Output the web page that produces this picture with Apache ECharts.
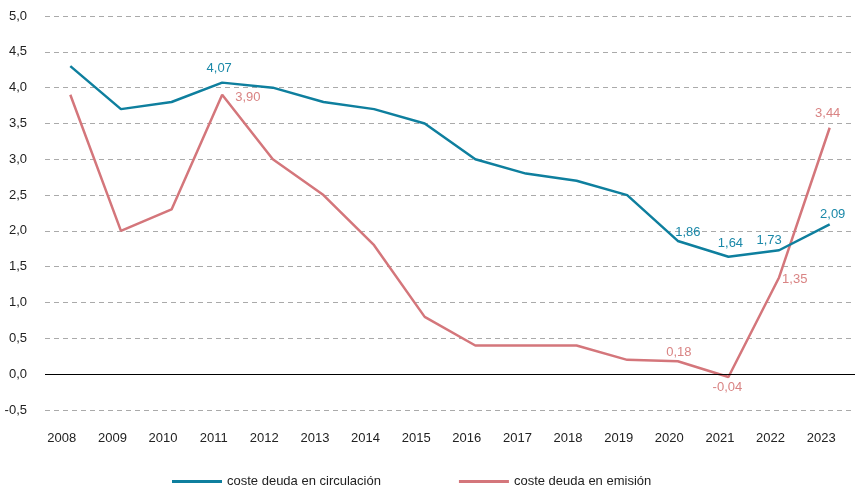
<!DOCTYPE html>
<html>
<head>
<meta charset="utf-8">
<script src="https://cdn.jsdelivr.net/npm/echarts@6/dist/echarts.min.js"></script>
<style>
  html, body { margin: 0; padding: 0; background: #ffffff; }
  #chart { width: 855px; height: 489px; }
</style>
</head>
<body>
<div id="chart"></div>
<script>
// datos
var years = ["2008", "2009", "2010", "2011", "2012", "2013", "2014", "2015",
  "2016", "2017", "2018", "2019", "2020", "2021", "2022", "2023"];
var circulacion = [4.3, 3.7, 3.8, 4.07, 4.0, 3.8, 3.7, 3.5, 3.0, 2.8, 2.7, 2.5, 1.86, 1.64, 1.73, 2.09];
var emision = [3.9, 2.0, 2.3, 3.9, 3.0, 2.5, 1.8, 0.8, 0.4, 0.4, 0.4, 0.2, 0.18, -0.04, 1.35, 3.44];

// puntos con etiqueta: [posicion, distancia, offset]
var labelsCirc = {
  3: ["top", 8, [-3, 0]],
  12: ["top", 2, [10, 0]],
  13: ["top", 7, [2, 0]],
  14: ["top", 3, [-10, 0]],
  15: ["top", 4, [3, 0]]
};
var labelsEmis = {
  3: ["right", 13, [0, 3]],
  12: ["top", 2, [1, 0]],
  13: ["bottom", 4, [-1, 0]],
  14: ["right", 3, [0, 2]],
  15: ["top", 8, [-2, 0]]
};

var blue = "#0e7f9e";
var red = "#d4767b";
var font = "Liberation Sans, Arial, sans-serif";

function fmt(v) {
  return v.toFixed(2).replace(".", ",");
}

function buildData(values, labels, color) {
  return values.map(function (v, i) {
    var item = { value: v };
    var l = labels[i];
    if (l) {
      item.label = {
        show: true,
        position: l[0],
        distance: l[1],
        offset: l[2],
        color: color,
        fontSize: 13,
        fontFamily: font,
        formatter: function (p) { return fmt(p.value); }
      };
    }
    return item;
  });
}

var chart = echarts.init(document.getElementById("chart"));
chart.setOption({
  animation: false,
  grid: { left: 45, right: 0, top: 16, bottom: 79 },
  legend: {
    top: 470,
    left: 167,
    itemWidth: 50,
    itemHeight: 3,
    itemGap: 78,
    icon: "rect",
    textStyle: { color: "#222", fontSize: 13, fontFamily: font },
    data: ["coste deuda en circulación", "coste deuda en emisión"]
  },
  xAxis: {
    type: "category",
    data: years,
    boundaryGap: true,
    axisLine: { show: false, onZero: false },
    axisTick: { show: false },
    axisLabel: { color: "#222", fontSize: 13, margin: 22, padding: [0, 17, 0, 0], fontFamily: font }
  },
  yAxis: {
    type: "value",
    min: -0.5,
    max: 5,
    interval: 0.5,
    axisLine: { show: false },
    axisTick: { show: false },
    axisLabel: {
      color: "#222",
      fontSize: 13,
      margin: 18,
      fontFamily: font,
      formatter: function (v) { return v.toFixed(1).replace(".", ","); }
    },
    splitLine: { lineStyle: { color: "#aaaaaa", type: [5, 4], width: 1 } }
  },
  series: [
    {
      name: "coste deuda en circulación",
      type: "line",
      data: buildData(circulacion, labelsCirc, "#1a88a8"),
      symbol: "circle",
      symbolSize: 0,
      showSymbol: true,
      lineStyle: { color: blue, width: 2.5 },
      itemStyle: { color: blue },
      z: 3,
      markLine: {
        silent: true,
        symbol: "none",
        label: { show: false },
        lineStyle: { color: "#000", type: "solid", width: 1.2 },
        data: [{ yAxis: 0 }]
      }
    },
    {
      name: "coste deuda en emisión",
      type: "line",
      data: buildData(emision, labelsEmis, "#d98484"),
      symbol: "circle",
      symbolSize: 0,
      showSymbol: true,
      lineStyle: { color: red, width: 2.5 },
      itemStyle: { color: red },
      z: 2
    }
  ]
});
</script>
</body>
</html>
